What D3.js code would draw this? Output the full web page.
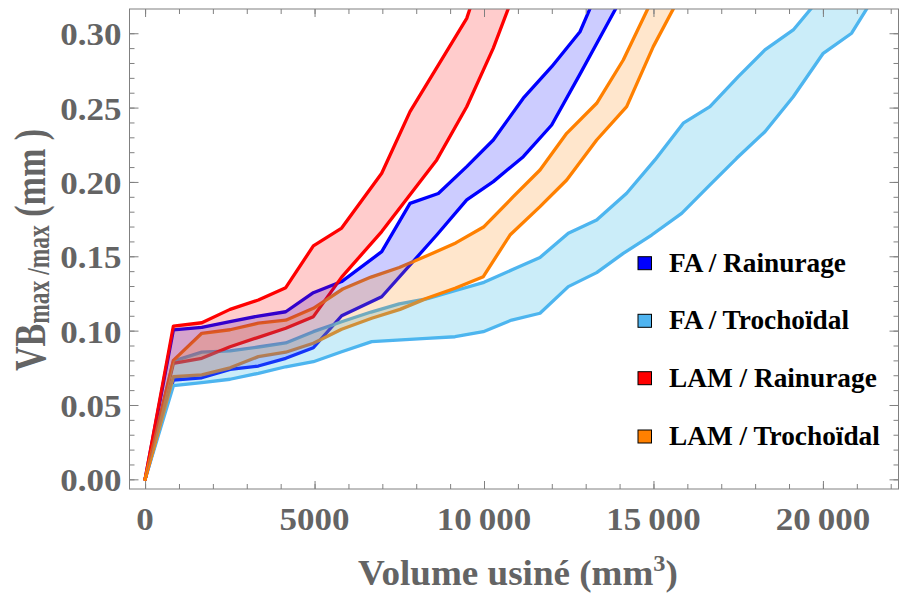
<!DOCTYPE html>
<html><head><meta charset="utf-8">
<script src="https://cdn.jsdelivr.net/npm/d3@7"></script>
<style>body{margin:0;background:#fff}svg{display:block}text{white-space:pre}</style>
</head><body><svg id="c" width="899" height="594"></svg>
<script>
// ---------- data (volume mm3, VB mm) ----------
const seriesNames = ["FA / Rainurage", "FA / Trochoïdal", "LAM / Rainurage", "LAM / Trochoïdal"];
const seriesColors = ["#0000ff", "#4fb4f0", "#ff0000", "#ff8000"];
const fillColors = ["#0000ff", "#46bee8", "#ff0000", "#ff8000"];
const fillOpacity = [0.2, 0.28, 0.2, 0.2];

const faRainurageUpper = [[0,0],[835,0.1005],[1673,0.1022],[2507,0.106],[3342,0.1098],[4150,0.1127],[4965,0.1255],[5800,0.133],[6982,0.1531],[7817,0.1856],[8652,0.1922],[9490,0.2103],[10274,0.2282],[11159,0.2563],[11997,0.2775],[12832,0.301],[13400,0.331]];
const faRainurageLower = [[0,0],[835,0.0668],[1673,0.0683],[2507,0.074],[3342,0.0762],[4150,0.0814],[4965,0.0885],[5800,0.11],[6982,0.1228],[8605,0.1643],[9490,0.1879],[10274,0.2002],[11159,0.217],[11997,0.2383],[12832,0.2725],[13619,0.3054],[14400,0.338]];
const faTrochoidalUpper = [[0,0],[835,0.0795],[1673,0.0855],[2507,0.0864],[3342,0.089],[4150,0.0917],[4965,0.0993],[5800,0.106],[6667,0.1125],[7500,0.118],[8333,0.1215],[9167,0.127],[10000,0.1325],[10864,0.1413],[11652,0.1492],[12487,0.1655],[13324,0.1744],[14209,0.1924],[15044,0.2148],[15879,0.2395],[16667,0.2506],[17502,0.2708],[18289,0.2888],[19124,0.3022],[19960,0.325]];
const faTrochoidalLower = [[0,0],[835,0.063],[1673,0.065],[2507,0.0673],[3342,0.0713],[4150,0.0757],[4965,0.0791],[5800,0.0858],[6687,0.0926],[8310,0.0948],[9145,0.0959],[9979,0.0993],[10817,0.1071],[11652,0.1117],[12487,0.1296],[13324,0.139],[14109,0.152],[14947,0.1643],[15832,0.1789],[16667,0.198],[17454,0.2159],[18289,0.2338],[19124,0.2573],[20009,0.2865],[20847,0.300],[21680,0.3307]];
const lamRainurageUpper = [[0,0],[835,0.1031],[1673,0.1053],[2507,0.1143],[3342,0.1206],[4150,0.1289],[4965,0.157],[5800,0.169],[6982,0.2058],[7817,0.2473],[9490,0.310],[10300,0.3655]];
const lamRainurageLower = [[0,0],[835,0.078],[1673,0.0814],[2507,0.0892],[3342,0.0955],[4150,0.1016],[4965,0.1094],[5800,0.136],[6982,0.1666],[8605,0.2148],[9490,0.2506],[10274,0.29],[11000,0.3336]];
const lamTrochoidalUpper = [[0,0],[835,0.080],[1673,0.0982],[2507,0.1006],[3342,0.105],[4150,0.107],[4965,0.115],[5833,0.128],[6667,0.136],[7500,0.1425],[8333,0.1505],[9167,0.159],[10000,0.1699],[10864,0.1901],[11652,0.208],[12440,0.2327],[13324,0.2529],[14109,0.282],[14950,0.322]];
const lamTrochoidalLower = [[0,0],[835,0.069],[1673,0.0702],[2507,0.075],[3342,0.0825],[4150,0.0855],[4965,0.0915],[5800,0.1009],[6687,0.1083],[7522,0.1143],[8310,0.1217],[9145,0.1285],[9979,0.1363],[10767,0.1643],[11652,0.1834],[12440,0.2013],[13324,0.2282],[14209,0.2506],[14994,0.291],[15833,0.327]];

const upperLines = [faRainurageUpper, faTrochoidalUpper, lamRainurageUpper, lamTrochoidalUpper];
const lowerLines = [faRainurageLower, faTrochoidalLower, lamRainurageLower, lamTrochoidalLower];

const xMajorTicks = [0, 5000, 10000, 15000, 20000];
const xTickLabels = ["0", "5000", "10\u2009000", "15\u2009000", "20\u2009000"];
const xMinorTicks = d3.range(0, 22001, 1000);
const yMajorTicks = [0, 0.05, 0.10, 0.15, 0.20, 0.25, 0.30];
const yTickLabels = ["0.00", "0.05", "0.10", "0.15", "0.20", "0.25", "0.30"];
const yMinorTicks = d3.range(0, 31).map(i => i / 100);

// ---------- layout ----------
const L = 129.5, R = 898.5, T = 9, B = 489;
const x = d3.scaleLinear().domain([-460, 22230]).range([L, R]);
const y = d3.scaleLinear().domain([-0.0065, 0.3163]).range([B, T]);
const svg = d3.select("#c");
const axisColor = "#808080", labelColor = "#646464";
const serif = "'Liberation Serif','Times New Roman',serif";

svg.append("defs").append("clipPath").attr("id", "clip")
  .append("rect").attr("x", L).attr("y", T).attr("width", R - L).attr("height", B - T);

const plot = svg.append("g").attr("clip-path", "url(#clip)");
const line = d3.line().x(d => x(d[0])).y(d => y(d[1]));

// lines first
upperLines.forEach((u, i) => {
  [u, lowerLines[i]].forEach(pts => {
    plot.append("path").attr("d", line(pts)).attr("fill", "none")
      .attr("stroke", seriesColors[i]).attr("stroke-width", 3.3)
      .attr("stroke-linejoin", "round").attr("stroke-linecap", "round");
  });
});
// fills on top
upperLines.forEach((u, i) => {
  const poly = u.concat(lowerLines[i].slice().reverse());
  plot.append("path").attr("d", line(poly) + "Z")
    .attr("fill", fillColors[i]).attr("fill-opacity", fillOpacity[i]).attr("stroke", "none");
});

// ---------- axes ----------
function styleAxis(g) {
  g.select(".domain").remove();
  g.selectAll("line").attr("stroke", axisColor).attr("stroke-width", 1);
}
svg.append("g").attr("transform", `translate(0,${B})`)
  .call(d3.axisBottom(x).tickValues(xMinorTicks).tickSize(-5).tickFormat("")).call(styleAxis);
svg.append("g").attr("transform", `translate(0,${B})`)
  .call(d3.axisBottom(x).tickValues(xMajorTicks).tickSize(-8).tickFormat("")).call(styleAxis);
svg.append("g").attr("transform", `translate(0,${T})`)
  .call(d3.axisTop(x).tickValues(xMinorTicks).tickSize(-5).tickFormat("")).call(styleAxis);
svg.append("g").attr("transform", `translate(0,${T})`)
  .call(d3.axisTop(x).tickValues(xMajorTicks).tickSize(-8).tickFormat("")).call(styleAxis);
svg.append("g").attr("transform", `translate(${L},0)`)
  .call(d3.axisLeft(y).tickValues(yMinorTicks).tickSize(-5).tickFormat("")).call(styleAxis);
svg.append("g").attr("transform", `translate(${L},0)`)
  .call(d3.axisLeft(y).tickValues(yMajorTicks).tickSize(-9).tickFormat("")).call(styleAxis);
svg.append("g").attr("transform", `translate(${R},0)`)
  .call(d3.axisRight(y).tickValues(yMinorTicks).tickSize(-5).tickFormat("")).call(styleAxis);
svg.append("g").attr("transform", `translate(${R},0)`)
  .call(d3.axisRight(y).tickValues(yMajorTicks).tickSize(-9).tickFormat("")).call(styleAxis);
svg.append("rect").attr("x", L).attr("y", T).attr("width", R - L).attr("height", B - T)
  .attr("fill", "none").attr("stroke", axisColor).attr("stroke-width", 1);

// tick labels
const tickFont = 31, tickSX = 1.13;
xMajorTicks.forEach((v, i) => {
  svg.append("text").attr("transform", `translate(${x(v)},530) scale(${tickSX},1)`)
    .attr("text-anchor", "middle").attr("font-family", serif).attr("font-weight", "bold")
    .attr("font-size", tickFont).attr("fill", labelColor).text(xTickLabels[i]);
});
yMajorTicks.forEach((v, i) => {
  svg.append("text").attr("transform", `translate(121.5,${y(v) + 12}) scale(${tickSX},1)`)
    .attr("text-anchor", "end").attr("font-family", serif).attr("font-weight", "bold")
    .attr("font-size", tickFont).attr("fill", labelColor).text(yTickLabels[i]);
});

// axis titles
const xt = svg.append("text").attr("transform", "translate(518,585) scale(1.06,1)")
  .attr("text-anchor", "middle").attr("font-family", serif).attr("font-weight", "bold")
  .attr("font-size", 35).attr("fill", labelColor);
xt.append("tspan").text("Volume usiné (mm");
xt.append("tspan").attr("font-size", 23).attr("dy", -14).text("3");
xt.append("tspan").attr("dy", 14).text(")");

const yt = svg.append("text").attr("transform", "translate(45,250) rotate(-90) scale(1,1.3)")
  .attr("text-anchor", "middle").attr("font-family", serif).attr("font-weight", "bold")
  .attr("font-size", 34).attr("fill", labelColor);
yt.append("tspan").text("VB");
yt.append("tspan").attr("font-size", 23.5).attr("dy", 3).text("max /max");
yt.append("tspan").attr("dy", -3).text(" (mm )");

// legend
const legendY = [271.7, 329.3, 386.7, 445];
seriesNames.forEach((name, i) => {
  svg.append("rect").attr("x", 638).attr("y", legendY[i] - 15).attr("width", 13.5).attr("height", 13)
    .attr("fill", seriesColors[i]).attr("stroke", "#000").attr("stroke-width", 1);
  svg.append("text").attr("transform", `translate(669,${legendY[i]}) scale(1.05,1.05)`)
    .attr("font-family", serif).attr("font-weight", "bold").attr("font-size", 26)
    .attr("fill", "#000").text(name);
});
</script></body></html>
